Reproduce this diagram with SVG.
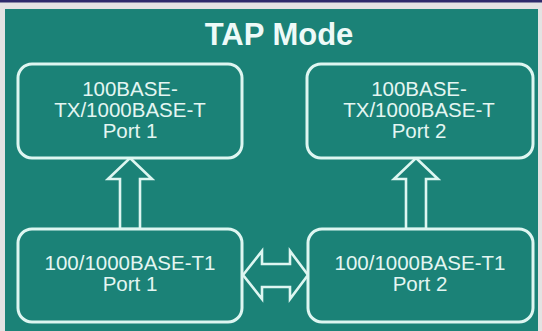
<svg xmlns="http://www.w3.org/2000/svg" width="542" height="331" viewBox="0 0 542 331">
<style>
.box{fill:#1b8277;stroke:#def6f1;stroke-width:3}
.arr{fill:#1b8277;stroke:#def6f1;stroke-width:2.6;stroke-linejoin:miter}
.t{font-family:"Liberation Sans",Arial,sans-serif;font-size:20.5px;fill:#e4f6f2;text-anchor:middle}
.title{font-family:"Liberation Sans",Arial,sans-serif;font-size:31px;font-weight:bold;fill:#eefaf8;text-anchor:middle}
</style>
<rect x="0" y="0" width="542" height="331" fill="#e3e3e3"/>
<rect x="0" y="0" width="542" height="2.5" fill="#2d2a6b"/>
<rect x="5" y="9" width="533" height="322" fill="#1b8277"/>
<text class="title" x="279" y="45">TAP Mode</text>
<g id="connectors">
<polygon class="arr" points="130,158 152,179 140,179 140,229 120,229 120,179 108,179"/>
<polygon class="arr" points="416,158 438,179 426,179 426,229 406,229 406,179 394,179"/>
<polygon class="arr" points="243,275 262,251 262,264 290,264 290,251 308,275 290,299 290,287 262,287 262,299"/>
</g>
<g id="node-top-left">
<rect class="box" x="18" y="64" width="224" height="94" rx="14"/>
<text class="t" x="130" y="96">100BASE-</text>
<text class="t" x="130" y="117">TX/1000BASE-T</text>
<text class="t" x="130" y="138">Port 1</text>
</g>
<g id="node-top-right">
<rect class="box" x="307" y="64" width="226" height="94" rx="14"/>
<text class="t" x="419" y="96">100BASE-</text>
<text class="t" x="419" y="117">TX/1000BASE-T</text>
<text class="t" x="419" y="138">Port 2</text>
</g>
<g id="node-bottom-left">
<rect class="box" x="18" y="229" width="224" height="93" rx="14"/>
<text class="t" x="130" y="270">100/1000BASE-T1</text>
<text class="t" x="130" y="291">Port 1</text>
</g>
<g id="node-bottom-right">
<rect class="box" x="308" y="229" width="225" height="93" rx="14"/>
<text class="t" x="420" y="270">100/1000BASE-T1</text>
<text class="t" x="420" y="291">Port 2</text>
</g>
</svg>
